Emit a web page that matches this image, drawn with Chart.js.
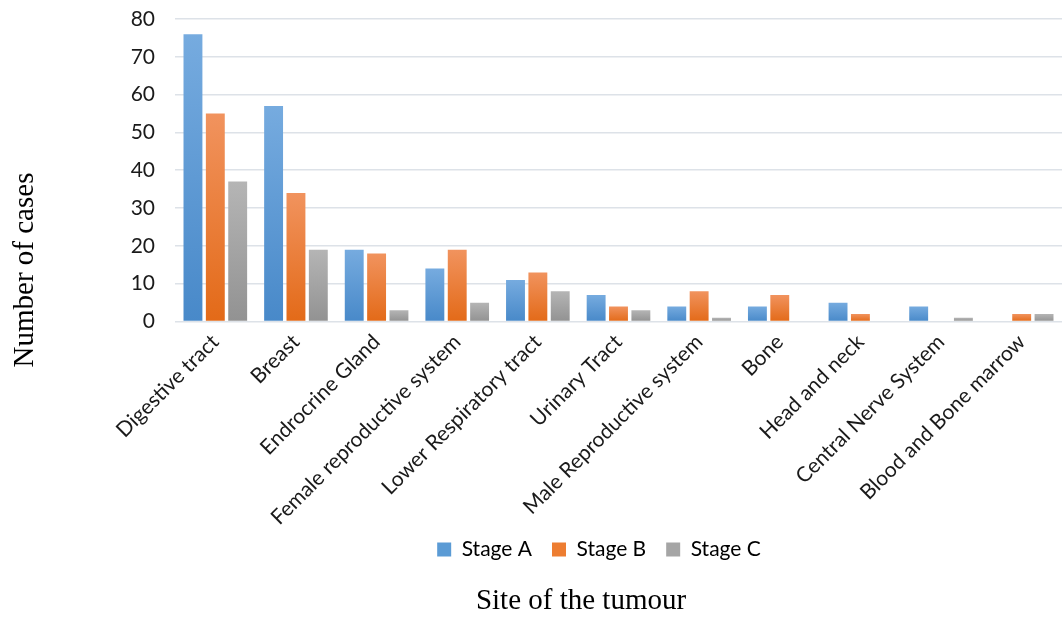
<!DOCTYPE html>
<html>
<head>
<meta charset="utf-8">
<script src="https://cdn.jsdelivr.net/npm/chart.js@4.4.1/dist/chart.umd.min.js"></script>
<style>
  html, body { margin: 0; padding: 0; background: #ffffff; }
  #wrap { width: 1062px; height: 617px; position: relative; }
</style>
</head>
<body>
<div id="wrap"><canvas id="c"></canvas></div>
<script>
const categories = [
  "Digestive tract", "Breast", "Endrocrine Gland", "Female reproductive system",
  "Lower Respiratory tract", "Urinary Tract", "Male Reproductive system", "Bone",
  "Head and neck", "Central Nerve System", "Blood and Bone marrow"
];
const seriesNames = ["Stage A", "Stage B", "Stage C"];
const stageA = [76, 57, 19, 14, 11, 7, 4, 4, 5, 4, 0];
const stageB = [55, 34, 18, 19, 13, 4, 8, 7, 2, 0, 2];
const stageC = [37, 19, 3, 5, 8, 3, 1, 0, 0, 1, 2];
const yMin = 0, yMax = 80, yStep = 10;
const xTitle = "Site of the tumour";
const yTitle = "Number of cases";

const palette = [
  { solid: "#5b9bd5", top: "#76abdf", bottom: "#4889c9" },
  { solid: "#ed7d31", top: "#f1935e", bottom: "#e36a18" },
  { solid: "#a5a5a5", top: "#b5b5b5", bottom: "#929292" }
];

function barFill(p) {
  return function (ctx) {
    const chart = ctx.chart;
    if (ctx.type !== 'data' || !chart.chartArea || !chart.scales.y) return p.solid;
    const y = chart.scales.y;
    const v = ctx.parsed ? ctx.parsed.y : 0;
    const yTop = y.getPixelForValue(v);
    const yBot = y.getPixelForValue(0);
    if (!isFinite(yTop) || !isFinite(yBot) || yBot - yTop < 1) return p.solid;
    const g = chart.ctx.createLinearGradient(0, yTop, 0, yBot);
    g.addColorStop(0, p.top);
    g.addColorStop(1, p.bottom);
    return g;
  };
}

const seriesData = [stageA, stageB, stageC];
const datasets = seriesNames.map((name, i) => ({
  label: name,
  data: seriesData[i],
  backgroundColor: barFill(palette[i]),
  borderWidth: 0,
  categoryPercentage: 0.832,
  barPercentage: 0.845
}));

const axisTitles = {
  id: 'axisTitles',
  afterDraw(chart) {
    const ctx = chart.ctx;
    ctx.save();
    ctx.fillStyle = '#000';
    ctx.font = '29px "Liberation Serif", "Times New Roman", serif';
    ctx.textAlign = 'center';
    ctx.textBaseline = 'alphabetic';
    ctx.fillText(xTitle, 581, 609);
    ctx.translate(33, 270);
    ctx.rotate(-Math.PI / 2);
    ctx.fillText(yTitle, 0, 0);
    ctx.restore();
  }
};

// legend sits a little closer to the tick labels than Chart.js puts it
const legendNudge = {
  id: 'legendNudge',
  afterLayout(chart) {
    const l = chart.legend;
    if (!l) return;
    l.top -= 19;
    l.bottom -= 19;
  }
};

const labelFont = { family: 'Lato, "Noto Sans", sans-serif', size: 21 };

new Chart(document.getElementById('c'), {
  type: 'bar',
  data: { labels: categories, datasets },
  plugins: [axisTitles, legendNudge],
  options: {
    responsive: true,
    maintainAspectRatio: false,
    animation: false,
    devicePixelRatio: 1,
    layout: { padding: { top: 19, left: 131, right: -5, bottom: 28 } },
    plugins: {
      legend: {
        position: 'bottom',
        labels: {
          font: labelFont,
          color: '#1a1a1a',
          boxWidth: 14,
          boxHeight: 14,
          padding: 20,
          generateLabels(chart) {
            return chart.data.datasets.map((d, i) => ({
              text: d.label,
              fillStyle: palette[i].solid,
              strokeStyle: palette[i].solid,
              lineWidth: 0,
              hidden: false,
              datasetIndex: i
            }));
          }
        }
      },
      tooltip: { enabled: false },
      title: { display: false }
    },
    scales: {
      x: {
        grid: { display: false, drawTicks: false },
        border: { display: false },
        ticks: {
          font: labelFont,
          color: '#1a1a1a',
          minRotation: 45,
          maxRotation: 45,
          autoSkip: false,
          padding: 8
        },
        afterFit(scale) { scale.paddingLeft = 0; scale.paddingRight = 0; }
      },
      y: {
        min: yMin,
        max: yMax,
        grid: { color: '#dde2e8', lineWidth: 1.6, drawTicks: false },
        border: { display: false },
        ticks: {
          stepSize: yStep,
          font: labelFont,
          color: '#1a1a1a',
          padding: 20
        },
        afterFit(scale) { scale.width = 44; scale.paddingTop = 0; scale.paddingBottom = 0; }
      }
    }
  }
});
</script>
</body>
</html>
